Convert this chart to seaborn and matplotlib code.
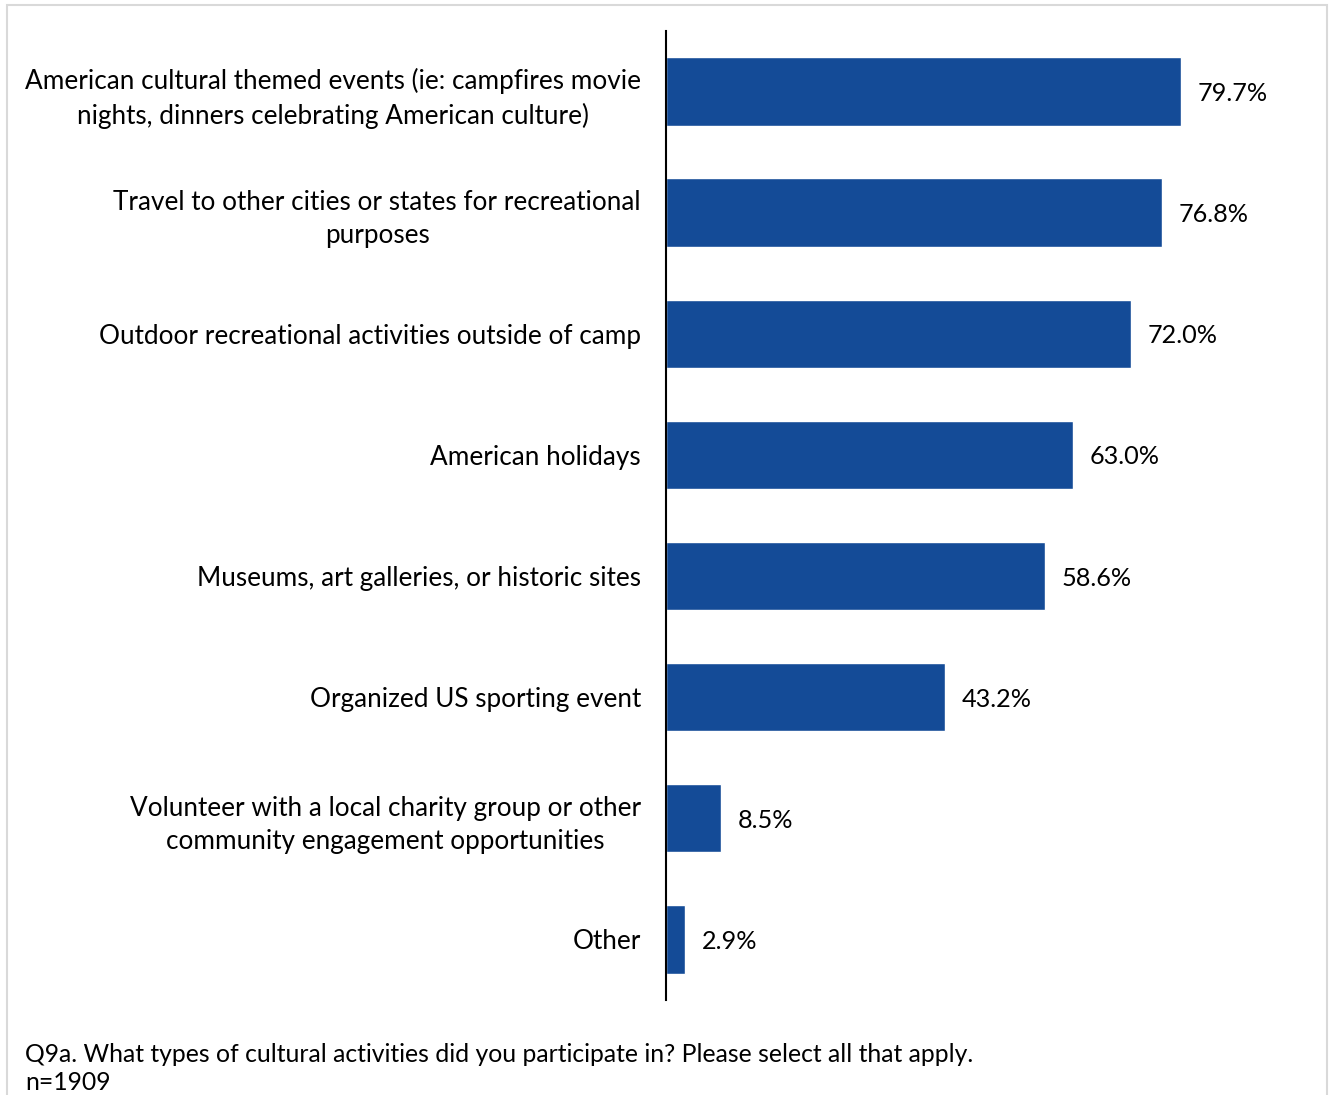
import matplotlib
matplotlib.use("Agg")
import matplotlib.pyplot as plt
import seaborn as sns
import pandas as pd
from matplotlib.patches import Rectangle

categories = [
    "American cultural themed events (ie: campfires movie\nnights, dinners celebrating American culture)",
    "Travel to other cities or states for recreational\npurposes",
    "Outdoor recreational activities outside of camp",
    "American holidays",
    "Museums, art galleries, or historic sites",
    "Organized US sporting event",
    "Volunteer with a local charity group or other\ncommunity engagement opportunities",
    "Other",
]
values = [79.7, 76.8, 72.0, 63.0, 58.6, 43.2, 8.5, 2.9]
footnote_lines = [
    "Q9a. What types of cultural activities did you participate in? Please select all that apply.",
    "n=1909",
]

sns.set_theme(style="white")
plt.rcParams["font.family"] = ["Lato", "DejaVu Sans"]

df = pd.DataFrame({"category": categories, "value": values})

fig = plt.figure(figsize=(13.33, 10.95), dpi=100)
ax = fig.add_axes([0.4996, 0.0868, 0.4847, 0.8849])

sns.barplot(data=df, y="category", x="value", color="#144B97", saturation=1,
            width=0.565, orient="h", ax=ax)

ax.set_xlim(0, 100)
ax.set_ylim(7.5, -0.5)
ax.set_xlabel("")
ax.set_ylabel("")
ax.set_xticks([])
for side in ["top", "right", "bottom"]:
    ax.spines[side].set_visible(False)
ax.spines["left"].set_color("black")
ax.spines["left"].set_linewidth(1.5)
ax.tick_params(axis="y", length=0, pad=18)
for lbl in ax.get_yticklabels():
    lbl.set_fontsize(18.8)
    lbl.set_multialignment("center")
    lbl.set_linespacing(1.4)
    lbl.set_color("black")

for i, v in enumerate(values):
    ax.text(v + 2.6, i, f"{v:.1f}%", va="center_baseline", ha="left",
            fontsize=18.2, color="black")

for k, y_px in enumerate([1053, 1080]):
    fig.text(25 / 1333, 1 - y_px / 1095, footnote_lines[k], ha="left",
             va="center_baseline", fontsize=17.8, color="black")

# light frame around the chart
fig.patches.append(Rectangle((7 / 1333, -0.05), 1320 / 1333, 1.05 - 5 / 1095,
                             transform=fig.transFigure, fill=False,
                             edgecolor="#D9D9D9", linewidth=1.5))

fig.savefig("out.png", dpi=100)
